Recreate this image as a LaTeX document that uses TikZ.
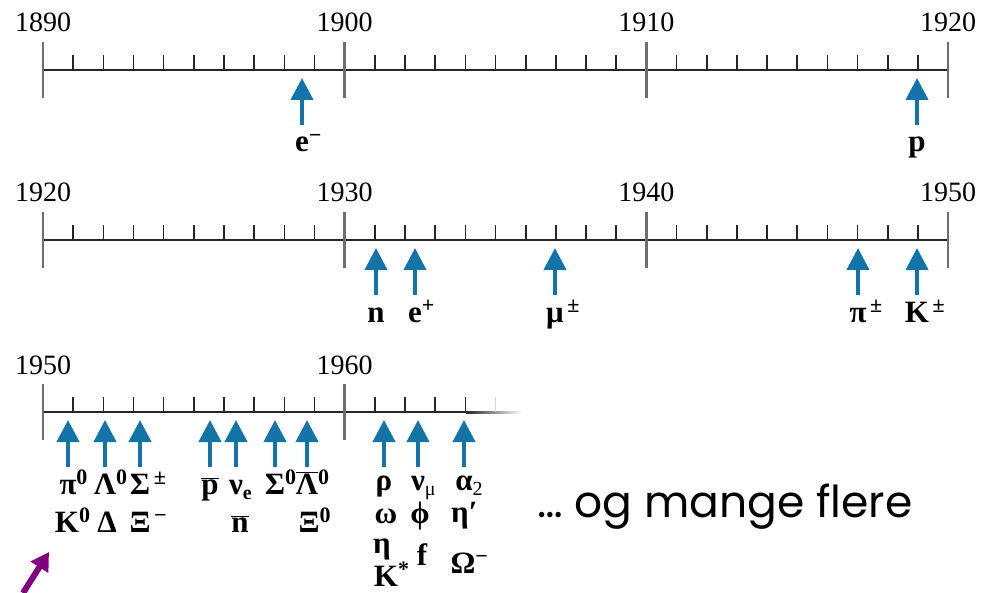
\documentclass[tikz,border=0pt]{standalone}
\usepackage[no-math]{fontspec}
\setmainfont{Liberation Serif}
\newfontfamily\handfont{Poppins}
\usetikzlibrary{arrows.meta}
\definecolor{ink}{HTML}{262626}
\definecolor{tickgray}{HTML}{6E6E6E}
\definecolor{findblue}{HTML}{1274A8}
\definecolor{hintpurple}{HTML}{800080}
\newcommand\antibar[1]{$\overline{\hbox{#1}}$}
\newcommand\hi[1]{\rlap{\raisebox{0.3em}{\fontsize{22}{22}\selectfont #1}}}
\newcommand\lo[1]{\rlap{\raisebox{-0.18em}{\fontsize{20}{20}\selectfont #1}}}

\begin{document}
\begin{tikzpicture}[x=1pt,y=-1pt,
  axis/.style={draw=ink,line width=2pt},
  decade/.style={draw=tickgray,line width=2.6pt},
  yeartick/.style={draw=ink,line width=1.6pt},
  find/.style={draw=findblue,line width=4pt,-{Triangle[width=22pt,length=22pt]}},
  hint/.style={draw=hintpurple,line width=6pt,-{Triangle[width=20pt,length=18pt]}},
  year/.style={font=\fontsize{28}{28}\selectfont,anchor=base},
  particle/.style={font=\fontsize{31}{31}\selectfont\bfseries,anchor=base,inner sep=0pt}]
  \useasboundingbox (0,0) rectangle (984,593);

  % full time lines 1890--1920 and 1920--1950
  \foreach \ay/\yr in {70/1890,240/1920} {
    \draw[axis] (43,\ay) -- (948,\ay);
    \foreach \k in {1,...,29}
      \draw[yeartick] ({43+30.17*\k},\ay) -- ++(0,-15);
    \foreach \d in {0,...,3} {
      \pgfmathtruncatemacro\lab{\yr+10*\d}
      \draw[decade] ({43+301.7*\d},\ay-28) -- ++(0,56);
      \node[year] (y\ay-\lab) at ({43+301.7*\d},\ay-38) {\lab};
    }
  }

  % last line, fading out after 1964
  \draw[axis] (43,412) -- (466,412);
  \shade[left color=ink,right color=white] (466,411) rectangle (522,413);
  \foreach \k in {1,...,14}
    \draw[yeartick] ({43+30.17*\k},412) -- ++(0,-15);
  \draw[yeartick,draw=ink!20] ({43+30.17*15},412) -- ++(0,-15);
  \foreach \d/\lab in {0/1950,1/1960} {
    \draw[decade] ({43+301.7*\d},384) -- ++(0,56);
    \node[year] (y412-\lab) at ({43+301.7*\d},374) {\lab};
  }

  % discoveries before 1950
  \foreach \nm/\px/\ay/\txt in {em/302/70/{e\hi{−}},
      p/917/70/{p},
      n/376/240/{n},
      ep/415/240/{e\hi{+}},
      mu/555/240/{μ\hi{\,±}},
      pi/858/240/{π\hi{\,±}},
      K/917/240/{K\hi{\,±}}} {
    \node[particle] (\nm) at (\px,\ay+82) {\txt};
    \coordinate (\nm-tip) at (\px,\ay+8);
    \draw[find] ([yshift=27pt]\nm.base) -- (\nm-tip);
  }

  % discoveries after 1950
  \foreach \nm/\px/\by/\txt in {pi0/68/494/{π\hi{0}},
      L0/105/494/{Λ\hi{0}},
      Sig/140/494/{Σ\hi{\,±}},
      pbar/210/494/{\antibar{p}},
      nue/236/494/{ν\lo{e}},
      S0/275/494/{Σ\hi{0}},
      Lbar/307/494/{\antibar{Λ}\hi{0}},
      rho/384/490/{ρ},
      numu/418/490/{ν\lo{\mdseries μ}},
      a2/464/490/{α\lo{\mdseries 2}}} {
    \node[particle] (\nm) at (\px,\by) {\txt};
    \coordinate (\nm-tip) at (\px,420);
    \draw[find] ([yshift=\by pt-467pt]\nm.base) -- (\nm-tip);
  }
  \foreach \nm/\px/\by/\txt in {K0/67/532/{K\hi{0}},
      Dl/107/532/{Δ},
      Xim/140/532/{Ξ\hi{\,−}},
      nbar/240/532/{\antibar{n}},
      Xi0/309/532/{Ξ\hi{0}},
      om/386/523/{ω},
      et/382/553/{η},
      Ks/386/586/{K\hi{*}},
      ph/420/523/{ϕ},
      f/422/565/{f},
      etp/460/522/{η\rlap{′}},
      Om/463/573/{Ω\hi{−}}}
    \node[particle] (\nm) at (\px,\by) {\txt};

  \node[anchor=base west,inner sep=0pt,font=\handfont\fontsize{44}{44}\selectfont]
    (more) at (537,517) {\ldots{} og mange flere};

  \coordinate (hint-tail) at (23,593);
  \coordinate (hint-tip) at (49,552);
  \draw[hint] (hint-tail) -- (hint-tip);
\end{tikzpicture}
\end{document}
